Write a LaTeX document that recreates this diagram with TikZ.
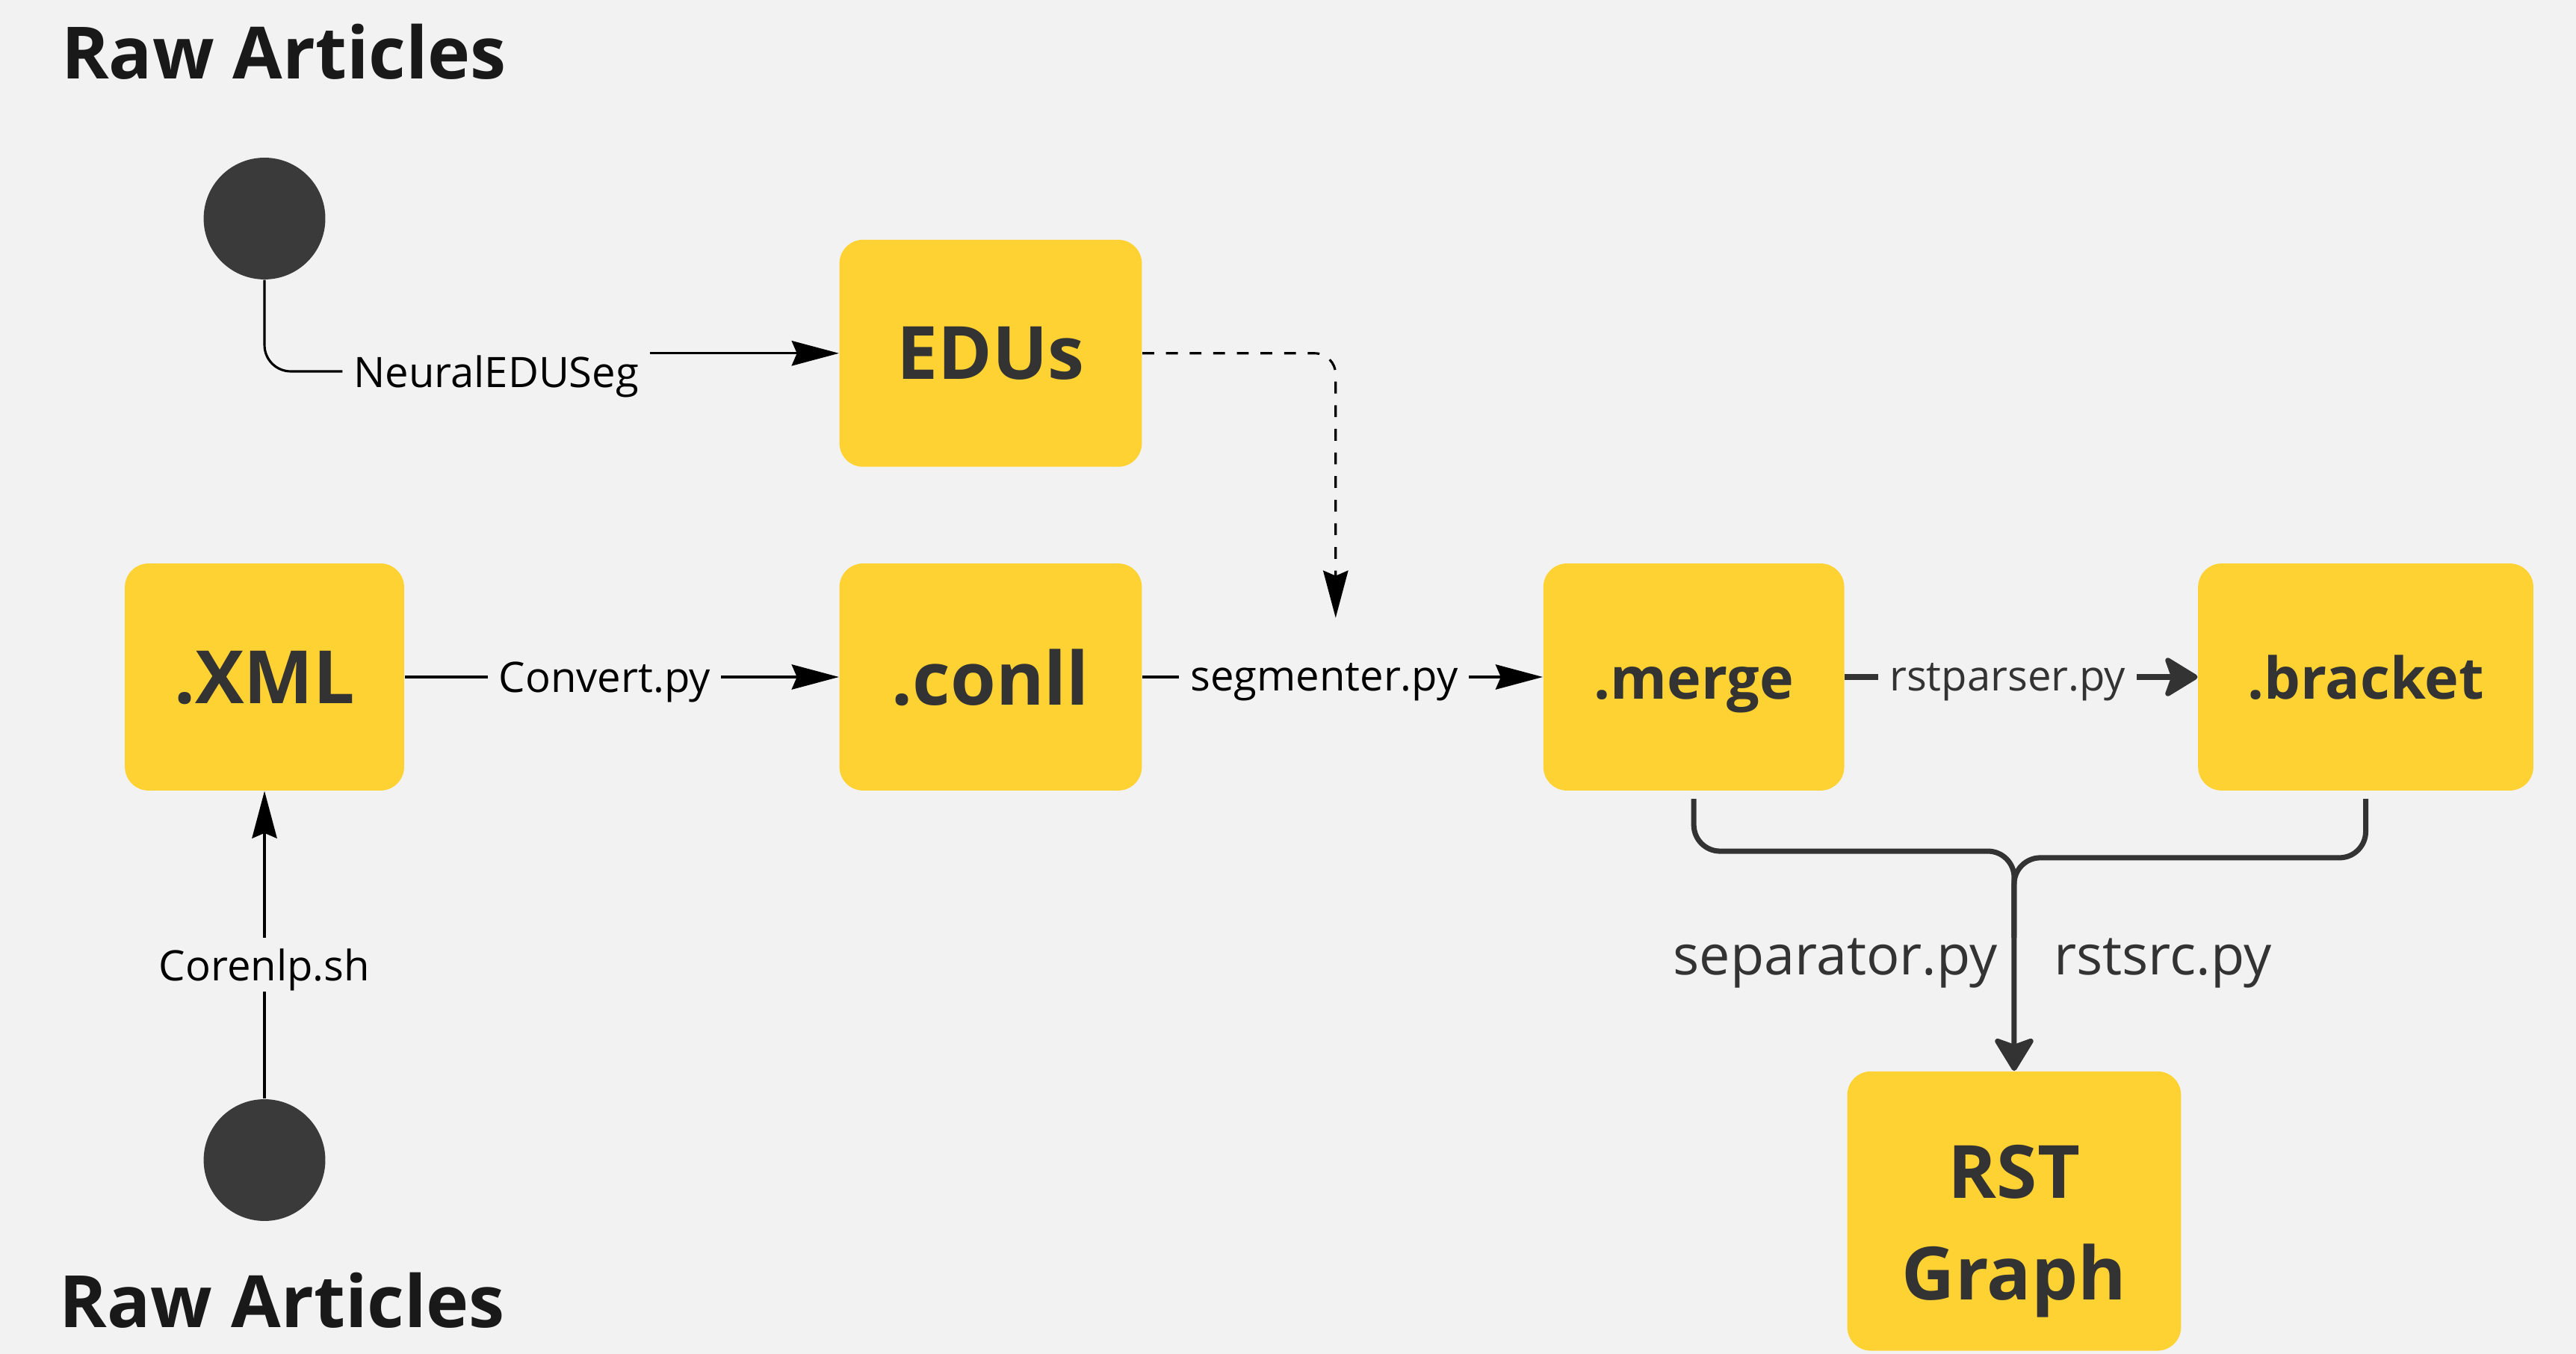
\documentclass[tikz,border=0pt]{standalone}
\usepackage{fontspec}
\setmainfont{Open Sans}
\usetikzlibrary{calc}
\usetikzlibrary{arrows.meta}

\definecolor{bg}{HTML}{F2F2F2}
\definecolor{boxfill}{HTML}{FFD233}
\definecolor{ink}{HTML}{333333}
\definecolor{dot}{HTML}{3A3A3A}

\tikzset{
  file/.style={fill=boxfill, rounded corners=9pt, text=ink, align=center, inner sep=0pt,
    minimum height=3.04cm, text depth=0pt, font=\bfseries\fontsize{28}{38.5}\selectfont},
  smallfile/.style={file, font=\bfseries\fontsize{22}{26}\selectfont},
  start/.style={circle, fill=dot, minimum size=1.63cm, inner sep=0pt},
  title/.style={text=black!90, font=\bfseries\fontsize{27.5}{34}\selectfont, anchor=base west, inner sep=0pt},
  lbl/.style={font=\fontsize{16}{19}\selectfont, inner sep=4pt, text depth=0pt},
  biglbl/.style={text=ink, font=\fontsize{21}{25}\selectfont, inner sep=0pt},
  thinline/.style={black, line width=0.9pt},
  tip/.style={-{Stealth[length=18pt,width=9.5pt,inset=2pt]}},
  dk/.style={ink, line width=2pt},
  dktip/.style={-{Stealth[round,length=14pt,width=17pt,inset=3pt]}},
}

\begin{document}
\begin{tikzpicture}[x=0.022cm,y=-0.022cm]

\path[fill=bg, use as bounding box] (0,0) rectangle (1568,824);

% sources
\node[title] (rawtop) at (37,48) {Raw Articles};
\node[title] (rawbot) at (36,808) {Raw Articles};
\node[start] (top) at (161,133) {};
\node[start] (bot) at (161,706) {};

% files
\node[file, minimum width=4.05cm] (edus) at (603,215) {EDUs};
\node[file, minimum width=3.74cm] (xml) at (161,412) {.XML};
\node[file, minimum width=4.05cm] (conll) at (603,412) {.conll};
\node[smallfile, minimum width=4.03cm] (merge) at (1031,412) {\rule{0pt}{17pt}.merge};
\node[smallfile, minimum width=4.49cm] (bracket) at (1440,412) {.bracket};
\node[file, minimum width=4.47cm, minimum height=3.74cm] (rst) at (1226,737) {\rule{0pt}{29pt}RST\\Graph};

% edge labels
\node[lbl] (neural) at (302,226) {NeuralEDUSeg};
\node[lbl] (convert) at (368,412) {Convert.py};
\node[lbl] (seg) at (806,412) {segmenter.py};
\node[lbl, text=ink] (parser) at (1222,412) {rstparser.py};
\node[lbl] (core) at (161,587) {Corenlp.sh};
\node[biglbl, anchor=east] (sep) at (1216,586) {separator.py};
\node[biglbl, anchor=west] (src) at (1250,586) {rstsrc.py};

\coordinate (segtop) at (813,376);
\coordinate (j1) at (1226,518);
\coordinate (j2) at (1226,522);

\draw[thinline, rounded corners=10] (top.south) |- (neural.west);
\draw[thinline, tip] (neural.east |- edus.west) -- (edus.west);
\draw[thinline] (xml.east) -- (convert.west);
\draw[thinline, tip] (convert.east) -- (conll.west);
\draw[thinline] (conll.east) -- (seg.west);
\draw[thinline, tip] (seg.east) -- (merge.west);
\draw[thinline, dash pattern=on 4.5pt off 4.5pt, rounded corners=8, tip] (edus.east) -| (segtop);
\draw[thinline] (bot.north) -- (core.south);
\draw[thinline, tip] (core.north) -- (xml.south);

\draw[dk] (merge.east) -- (parser.west);
\draw[dk, dktip] (parser.east) -- (bracket.west);
\draw[dk, rounded corners=10, shorten <=3pt] (bracket.south) |- (j2) -- (j2 |- sep.north);
\draw[dk, rounded corners=10, shorten <=3pt, dktip] (merge.south) |- (j1) -- (rst.north);

\end{tikzpicture}
\end{document}
